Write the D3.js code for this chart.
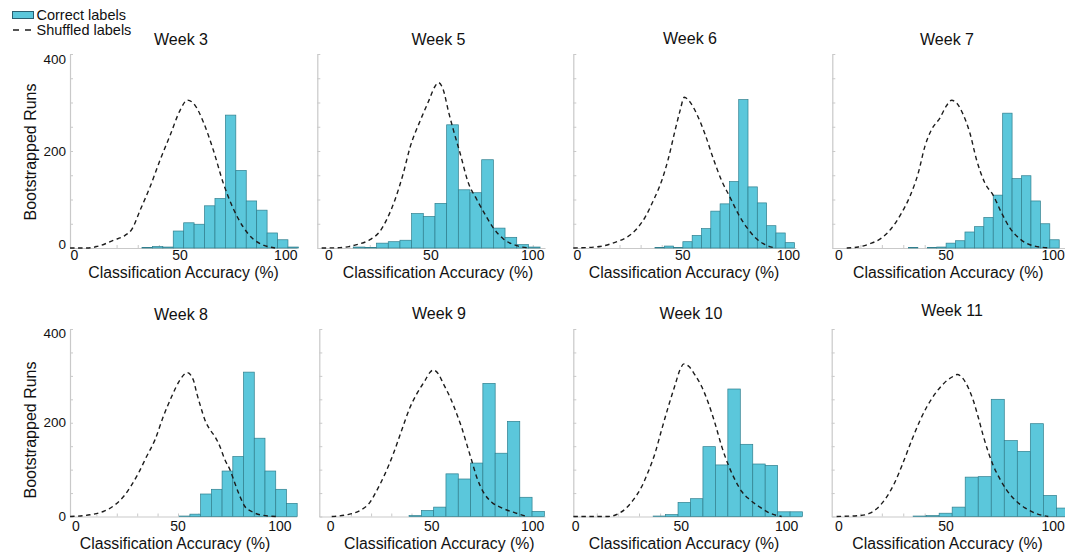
<!DOCTYPE html>
<html>
<head>
<meta charset="utf-8">
<script src="https://cdn.jsdelivr.net/npm/d3@7"></script>
<style>
  html, body { margin: 0; padding: 0; background: #fff; }
  svg { display: block; }
  text { font-family: "Liberation Sans", Arial, Helvetica, sans-serif; fill: #111; }
</style>
</head>
<body>
<svg id="chart" width="1065" height="556"></svg>
<script>
// ---- data ---------------------------------------------------------------
const weeks = ["Week 3", "Week 5", "Week 6", "Week 7", "Week 8", "Week 9", "Week 10", "Week 11"];
const xTickValues = [0, 50, 100];
const yTickValues = [0, 200, 400];
const yMax = 400;

// x-axis limits of each panel (classification accuracy, %)
const xLimits = [
  [-2.03, 105.3], [-5.74, 106.0], [-1.9, 103.5], [-3.13, 106.9],
  [-2.94, 108.2], [-5.64, 106.1], [-1.14, 107.1], [-3.4, 106.9]
];

// histogram bins: first edge and width (%), then run counts per bin
const binStarts = [32.0, 11.9, 36.8, 32.4, 50.58, 38.8, 36.7, 34.6];
const binWidths = [4.93, 5.73, 4.41, 4.40, 5.26, 6.09, 5.9, 6.08];

const runsWeek3  = [1, 3, 2, 35, 52, 49, 87, 102, 274, 160, 97, 78, 31, 17, 2];
const runsWeek5  = [2, 1, 10, 13, 16, 71, 65, 92, 254, 120, 114, 182, 41, 22, 7, 2];
const runsWeek6  = [1, 4, 1, 13, 26, 40, 76, 91, 137, 306, 126, 93, 46, 31, 11];
const runsWeek7  = [1, 0, 1, 2, 10, 15, 33, 44, 63, 109, 278, 143, 149, 97, 50, 17];
const runsWeek8  = [1, 5, 48, 58, 97, 128, 308, 167, 97, 58, 28];
const runsWeek9  = [2, 13, 20, 91, 80, 114, 284, 135, 203, 41, 11];
const runsWeek10 = [1, 4, 30, 38, 149, 110, 272, 154, 112, 109, 10, 10];
const runsWeek11 = [1, 2, 7, 20, 84, 85, 250, 162, 139, 198, 45, 18];

// shuffled-label null distributions: [accuracy %, runs]
const shuffledWeek3 = [[-2.0,0],[5.9,0],[12.2,4.8],[18.4,15.8],[24.0,26],[27.2,38.5],[31.1,77.7],[35.8,125.8],[40.5,180.8],[45.3,232.3],[50.0,283.8],[53.5,305],[57.1,294],[61.0,260],[65.8,201],[70.5,133],[75.2,81],[79.9,43],[84.7,18],[89.4,6],[94.9,0]];
const shuffledWeek5 = [[-3.6,0],[5.4,0.7],[13.6,6.9],[20.1,17.2],[25.0,34.4],[28.3,58.4],[32.4,99.7],[36.5,154.6],[39.8,208],[44.7,262],[48.8,302],[52.0,333],[53.7,341],[56.1,326],[58.6,282],[61.0,244],[64.3,196],[68.4,134],[72.5,100],[76.6,69],[80.7,41],[85.6,18.6],[92.1,4.8],[98.7,0]];
const shuffledWeek6 = [[-1.9,0],[10.0,2.7],[17.9,11.7],[23.4,22],[28.1,39.2],[32.1,63.2],[36.0,97.6],[40.0,138.8],[43.1,183.5],[46.3,241.9],[48.7,283.2],[50.7,310.7],[52.9,303.8],[56.6,276.3],[60.5,235.1],[64.5,183.5],[68.4,138.8],[72.4,104.5],[76.3,70.1],[80.3,42.6],[84.2,22],[89.0,6.9],[93.7,0]];
const shuffledWeek7 = [[3.6,0],[9.0,2.1],[14.5,8.9],[19.9,20.6],[24.6,41.2],[29.2,72.2],[33.1,106.5],[37.0,154.6],[40.1,209.6],[43.2,244],[47.1,268],[50.2,293.5],[52.6,304.5],[54.9,299],[58.0,274.9],[61.1,237.1],[64.2,182.1],[68.1,134],[72.0,108.6],[75.9,72.2],[79.8,41.2],[84.5,18.6],[89.9,5.5],[98.5,0]];
const shuffledWeek8 = [[-2.9,0],[6.9,3.6],[13.4,10.7],[19.1,24.9],[24.0,46.2],[27.3,67.5],[30.6,92.4],[34.6,127.9],[38.7,163.5],[42.8,213.2],[46.9,255.9],[51.0,291.4],[54.6,307],[57.5,291.5],[59.2,263],[61.1,234.5],[63.2,206],[65.7,185],[68.1,170.6],[70.6,149],[73.0,121],[75.5,99.6],[77.9,71],[80.4,42.6],[82.8,21.3],[86.1,10.7],[90.2,3.6],[98.4,0]];
const shuffledWeek9 = [[0.5,0],[7.9,3.6],[14.5,12.8],[19.5,30.6],[22.8,55.4],[26.9,91],[31.0,133.6],[35.1,183.4],[39.3,233.1],[42.6,261.5],[46.7,290],[49.2,307.7],[50.8,312.7],[53.3,304.2],[55.8,282.9],[59.1,254.4],[62.4,218.9],[64.8,190.5],[67.3,154.9],[69.8,119.4],[72.3,83.9],[75.6,51.9],[79.7,30.6],[84.6,18.5],[90.4,9.2],[97.0,0]];
const shuffledWeek10 = [[-1.1,0],[15.5,0],[19.4,4.3],[23.4,15.6],[27.3,35.5],[31.3,64],[34.4,95.9],[37.6,135],[40.7,184.8],[43.9,234.5],[47.1,280.7],[49.4,312.7],[51.3,325.5],[53.7,319.8],[56.5,302.1],[59.7,277.2],[62.9,241.6],[66.0,199],[69.2,149.3],[72.3,110.2],[75.5,78.2],[78.7,53.3],[82.6,35.5],[87.3,19.9],[92.1,7.1],[97.6,0]];
const shuffledWeek11 = [[-1.1,0],[9.8,2.1],[14.5,7.1],[18.4,19.9],[22.2,41.2],[26.1,73.2],[30.0,115.8],[33.9,162],[37.8,204.7],[40.9,233.1],[44.8,261.5],[48.7,282.9],[52.6,297.1],[55.2,302.8],[58.0,293.5],[60.4,274.3],[62.7,247.3],[65.0,211.8],[67.3,172.7],[69.7,137.2],[72.0,108.7],[75.1,80.3],[78.2,56.9],[82.1,35.5],[86.8,18.5],[91.5,7.1],[97.7,0]];

const runs = [runsWeek3, runsWeek5, runsWeek6, runsWeek7, runsWeek8, runsWeek9, runsWeek10, runsWeek11];
const shuffled = [shuffledWeek3, shuffledWeek5, shuffledWeek6, shuffledWeek7, shuffledWeek8, shuffledWeek9, shuffledWeek10, shuffledWeek11];

// ---- layout -------------------------------------------------------------
const rows = [
  { top: 54,  bottom: 248,   tickBase: 260, xTitleBase: 277.5, yTitleY: 152, yNudge: { 400: 5, 200: 0, 0: -4 } },
  { top: 329, bottom: 516.5, tickBase: 531, xTitleBase: 549,   yTitleY: 430, yNudge: { 400: 4, 200: 0, 0: 0 } }
];
const frames = [
  { row: 0, left: 70,    right: 297,  titleX: 181,   titleY: 45,    xTitleX: 183.5 },
  { row: 0, left: 317.3, right: 545,  titleX: 438.5, titleY: 45,    xTitleX: 438 },
  { row: 0, left: 573.3, right: 795.7,titleX: 690,   titleY: 43.5,  xTitleX: 684 },
  { row: 0, left: 832.3, right: 1068, titleX: 947,   titleY: 45,    xTitleX: 948.3 },
  { row: 1, left: 70,    right: 296.7,titleX: 181,   titleY: 320,   xTitleX: 175 },
  { row: 1, left: 319.3, right: 545,  titleX: 439,   titleY: 318.5, xTitleX: 439.3 },
  { row: 1, left: 573.3, right: 801.7,titleX: 691,   titleY: 318.5, xTitleX: 684 },
  { row: 1, left: 831.7, right: 1068, titleX: 952,   titleY: 316,   xTitleX: 947.5 }
];

const barFill = "#5bc7db";
const barStroke = "#2f7f8e";
const axisGrey = "#c9c9c9";

const svg = d3.select("#chart");

weeks.forEach((week, i) => {
  const f = frames[i];
  const r = rows[f.row];
  const x = d3.scaleLinear().domain(xLimits[i]).range([f.left, f.right]);
  const y = d3.scaleLinear().domain([0, yMax]).range([r.bottom, r.top]);
  const g = svg.append("g").attr("class", "panel");

  // axes: thin grey lines with small inward ticks
  const yAxis = g.append("g")
    .attr("transform", `translate(${f.left},0)`)
    .call(d3.axisRight(y).tickValues(d3.range(0, yMax + 1, 50)).tickSize(3).tickSizeOuter(0).tickFormat(""));
  const xAxis = g.append("g")
    .attr("transform", `translate(0,${r.bottom})`)
    .call(d3.axisTop(x).tickValues(d3.range(10, 101, 10)).tickSize(3).tickSizeOuter(0).tickFormat(""));
  [yAxis, xAxis].forEach(a => {
    a.select(".domain").attr("stroke", axisGrey).attr("stroke-width", 1.2);
    a.selectAll(".tick line").attr("stroke", axisGrey).attr("stroke-width", 1);
  });

  // histogram of bootstrapped runs with correct labels
  const bins = runs[i].map((c, k) => ({
    x0: binStarts[i] + k * binWidths[i],
    x1: binStarts[i] + (k + 1) * binWidths[i],
    count: c
  })).filter(b => b.count > 0);
  g.append("g").selectAll("rect").data(bins).join("rect")
    .attr("x", b => x(b.x0))
    .attr("width", b => x(b.x1) - x(b.x0))
    .attr("y", b => y(b.count))
    .attr("height", b => y(0) - y(b.count))
    .attr("fill", barFill)
    .attr("stroke", barStroke)
    .attr("stroke-width", 0.7);

  // null distribution from shuffled labels
  const line = d3.line().x(d => x(d[0])).y(d => y(d[1])).curve(d3.curveMonotoneX);
  g.append("path")
    .attr("d", line(shuffled[i]))
    .attr("fill", "none")
    .attr("stroke", "#1c1c1c")
    .attr("stroke-width", 1.4)
    .attr("stroke-dasharray", "4.5,3.5");

  // tick labels
  g.append("g").selectAll("text").data(xTickValues).join("text")
    .attr("x", v => x(v))
    .attr("y", r.tickBase)
    .attr("text-anchor", "middle")
    .style("font-size", "14px")
    .text(v => v);

  if (i % 4 === 0) {
    g.append("g").selectAll("text").data(yTickValues).join("text")
      .attr("x", f.left - 4)
      .attr("y", v => y(v) + r.yNudge[v])
      .attr("dy", "0.35em")
      .attr("text-anchor", "end")
      .style("font-size", "13.5px")
      .text(v => v);
    g.append("text")
      .attr("transform", `translate(30,${r.yTitleY}) rotate(-90)`)
      .attr("text-anchor", "middle")
      .attr("dy", "0.35em")
      .style("font-size", "16px")
      .text("Bootstrapped Runs");
  }

  g.append("text")
    .attr("x", f.titleX).attr("y", f.titleY)
    .attr("text-anchor", "middle")
    .style("font-size", "16px")
    .text(week);

  g.append("text")
    .attr("x", f.xTitleX).attr("y", r.xTitleBase)
    .attr("text-anchor", "middle")
    .style("font-size", "15.8px")
    .text("Classification Accuracy (%)");
});

// legend
const legend = svg.append("g").attr("class", "legend");
legend.append("rect")
  .attr("x", 12.5).attr("y", 11.5).attr("width", 21).attr("height", 7)
  .attr("fill", barFill).attr("stroke", "#2a5f70").attr("stroke-width", 1);
legend.append("text").attr("x", 36.5).attr("y", 19.5).style("font-size", "14.5px").text("Correct labels");
legend.append("line")
  .attr("x1", 13).attr("x2", 33).attr("y1", 30).attr("y2", 30)
  .attr("stroke", "#1c1c1c").attr("stroke-width", 1.3).attr("stroke-dasharray", "6,6");
legend.append("text").attr("x", 36.5).attr("y", 34.5).style("font-size", "14.5px").text("Shuffled labels");
</script>
</body>
</html>
